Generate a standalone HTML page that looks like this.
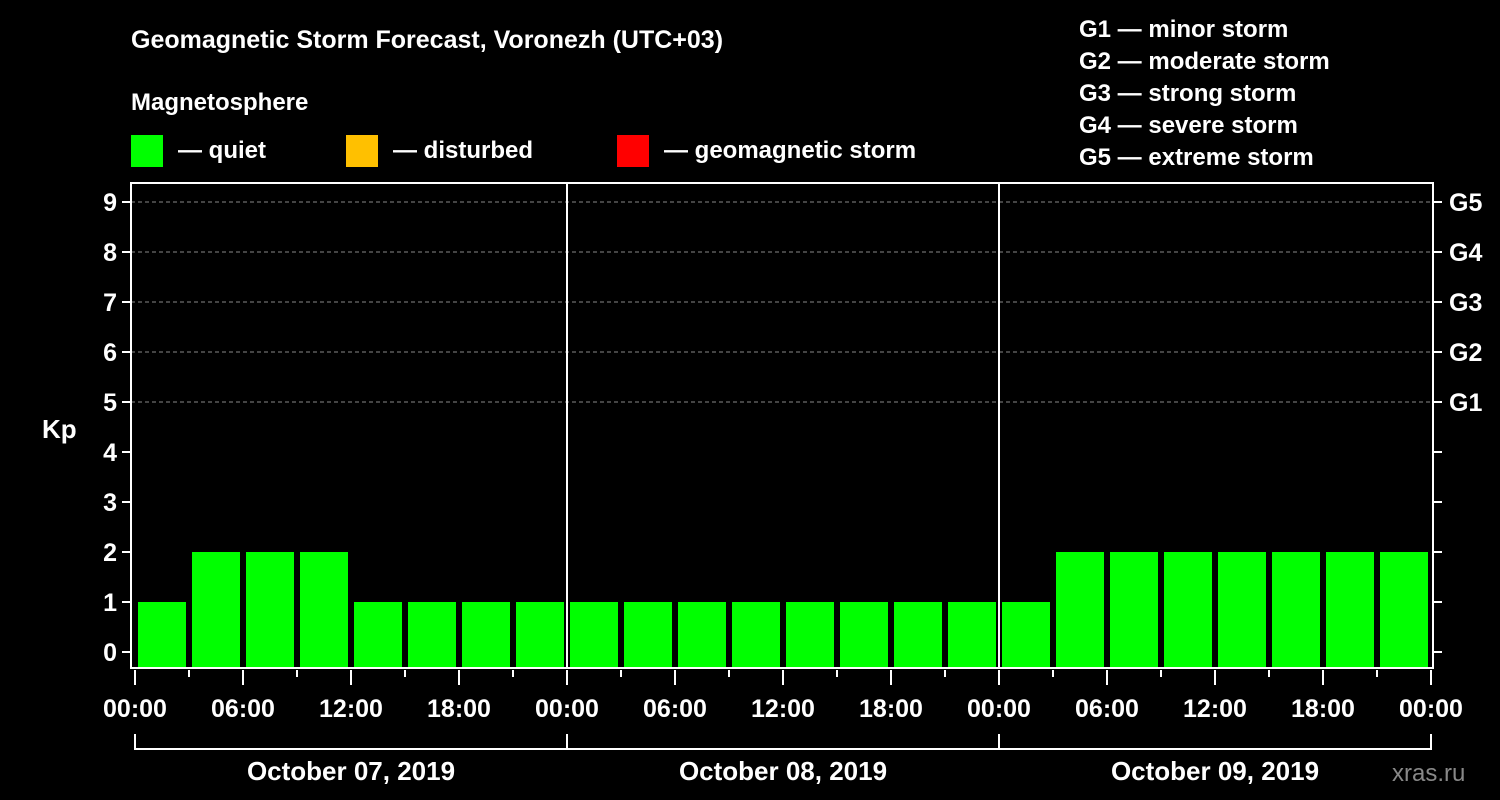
<!DOCTYPE html>
<html><head><meta charset="utf-8"><style>
html,body{margin:0;padding:0;background:#000;}
svg{display:block;font-family:"Liberation Sans",Arial,sans-serif;font-weight:bold;}
</style></head><body>
<svg id="chart" width="1500" height="800" xmlns="http://www.w3.org/2000/svg">
<rect x="0" y="0" width="1500" height="800" fill="#000"/>
<text x="131" y="48" fill="#fff" font-size="25">Geomagnetic Storm Forecast, Voronezh (UTC+03)</text>
<text x="131" y="110" fill="#fff" font-size="24">Magnetosphere</text>
<g><rect x="131" y="135" width="32" height="32" fill="#00ff00"/><text x="178" y="158" fill="#fff" font-size="24">— quiet</text></g>
<g><rect x="346" y="135" width="32" height="32" fill="#ffc000"/><text x="393" y="158" fill="#fff" font-size="24">— disturbed</text></g>
<g><rect x="617" y="135" width="32" height="32" fill="#ff0000"/><text x="664" y="158" fill="#fff" font-size="24">— geomagnetic storm</text></g>
<g fill="#fff" font-size="24">
<text x="1079" y="37">G1 — minor storm</text>
<text x="1079" y="69">G2 — moderate storm</text>
<text x="1079" y="101">G3 — strong storm</text>
<text x="1079" y="133">G4 — severe storm</text>
<text x="1079" y="165">G5 — extreme storm</text>
</g>
<text x="42" y="438" fill="#fff" font-size="26">Kp</text>
<text x="1392" y="781" fill="#888" font-size="24" font-weight="normal">xras.ru</text>
<g id="grid"></g><g id="bars"></g><g id="axes"></g>
</svg>
<script>
const days = ["October 07, 2019","October 08, 2019","October 09, 2019"];
const kpValues = [1,2,2,2,1,1,1,1, 1,1,1,1,1,1,1,1, 1,2,2,2,2,2,2,2];
const hourLabels = ["00:00","06:00","12:00","18:00"];
const yTicks = [0,1,2,3,4,5,6,7,8,9];
const gLabels = ["G1","G2","G3","G4","G5"];
const NS="http://www.w3.org/2000/svg";
const L=131,R=1433,T=183,B=668,X0=135,DAYW=432;
function x(h){return X0+h/24*DAYW;}
function y(k){return 652-k*50;}
function mk(tag,attrs,parent,txt){const e=document.createElementNS(NS,tag);for(const k in attrs)e.setAttribute(k,attrs[k]);if(txt!==undefined)e.textContent=txt;parent.appendChild(e);return e;}
const grid=document.getElementById('grid'),bars=document.getElementById('bars'),axes=document.getElementById('axes');
for(let k=5;k<=9;k++){
  const g=mk('line',{x1:L,x2:R,y1:y(k),y2:y(k),stroke:'#888','stroke-dasharray':'4,3','stroke-width':1},grid);
  
  
}
kpValues.forEach((v,i)=>{
  const h=i*3;
  const b=mk('rect',{x:x(h)+3,y:y(v),width:x(h+3)-x(h)-6,height:B-1-y(v),fill:v>=5?'#ff0000':(v>=4?'#ffc000':'#00ff00')},bars);
  
  
});
for(let d=1;d<days.length;d++){
  const s=mk('line',{x1:x(24*d),x2:x(24*d),y1:T,y2:B,stroke:'#fff','stroke-width':2},grid);
  
  
}
const frame=mk('rect',{x:L,y:T,width:R-L,height:B-T,fill:'none',stroke:'#fff','stroke-width':2},axes);


yTicks.forEach(k=>{
  mk('line',{x1:L-9,x2:L,y1:y(k),y2:y(k),stroke:'#fff','stroke-width':2},axes);
  mk('line',{x1:R,x2:R+9,y1:y(k),y2:y(k),stroke:'#fff','stroke-width':2},axes);
  const t=mk('text',{x:L-14,y:y(k)+9,fill:'#fff','font-size':25,'text-anchor':'end'},axes,String(k));
  
  
});
gLabels.forEach((g,i)=>{
  const t=mk('text',{x:1449,y:y(5+i)+9,fill:'#fff','font-size':25},axes,g);
  
  
});
for(let h=0;h<=24*days.length;h+=3){
  const major=h%6===0;
  mk('line',{x1:x(h),x2:x(h),y1:B+2,y2:major?B+17:B+9,stroke:'#fff','stroke-width':2},axes);
  if(major){
    const t=mk('text',{x:x(h),y:717,fill:'#fff','font-size':25,'text-anchor':'middle'},axes,hourLabels[(h%24)/6]);
    
    
  }
}
mk('line',{x1:x(0),x2:x(24*days.length),y1:749,y2:749,stroke:'#fff','stroke-width':2},axes);
for(let d=0;d<=days.length;d++) mk('line',{x1:x(24*d),x2:x(24*d),y1:734,y2:750,stroke:'#fff','stroke-width':2},axes);
days.forEach((d,i)=>{
  const t=mk('text',{x:x(24*i+12),y:780,fill:'#fff','font-size':26,'text-anchor':'middle'},axes,d);
  
  
});
</script>
</body></html>
